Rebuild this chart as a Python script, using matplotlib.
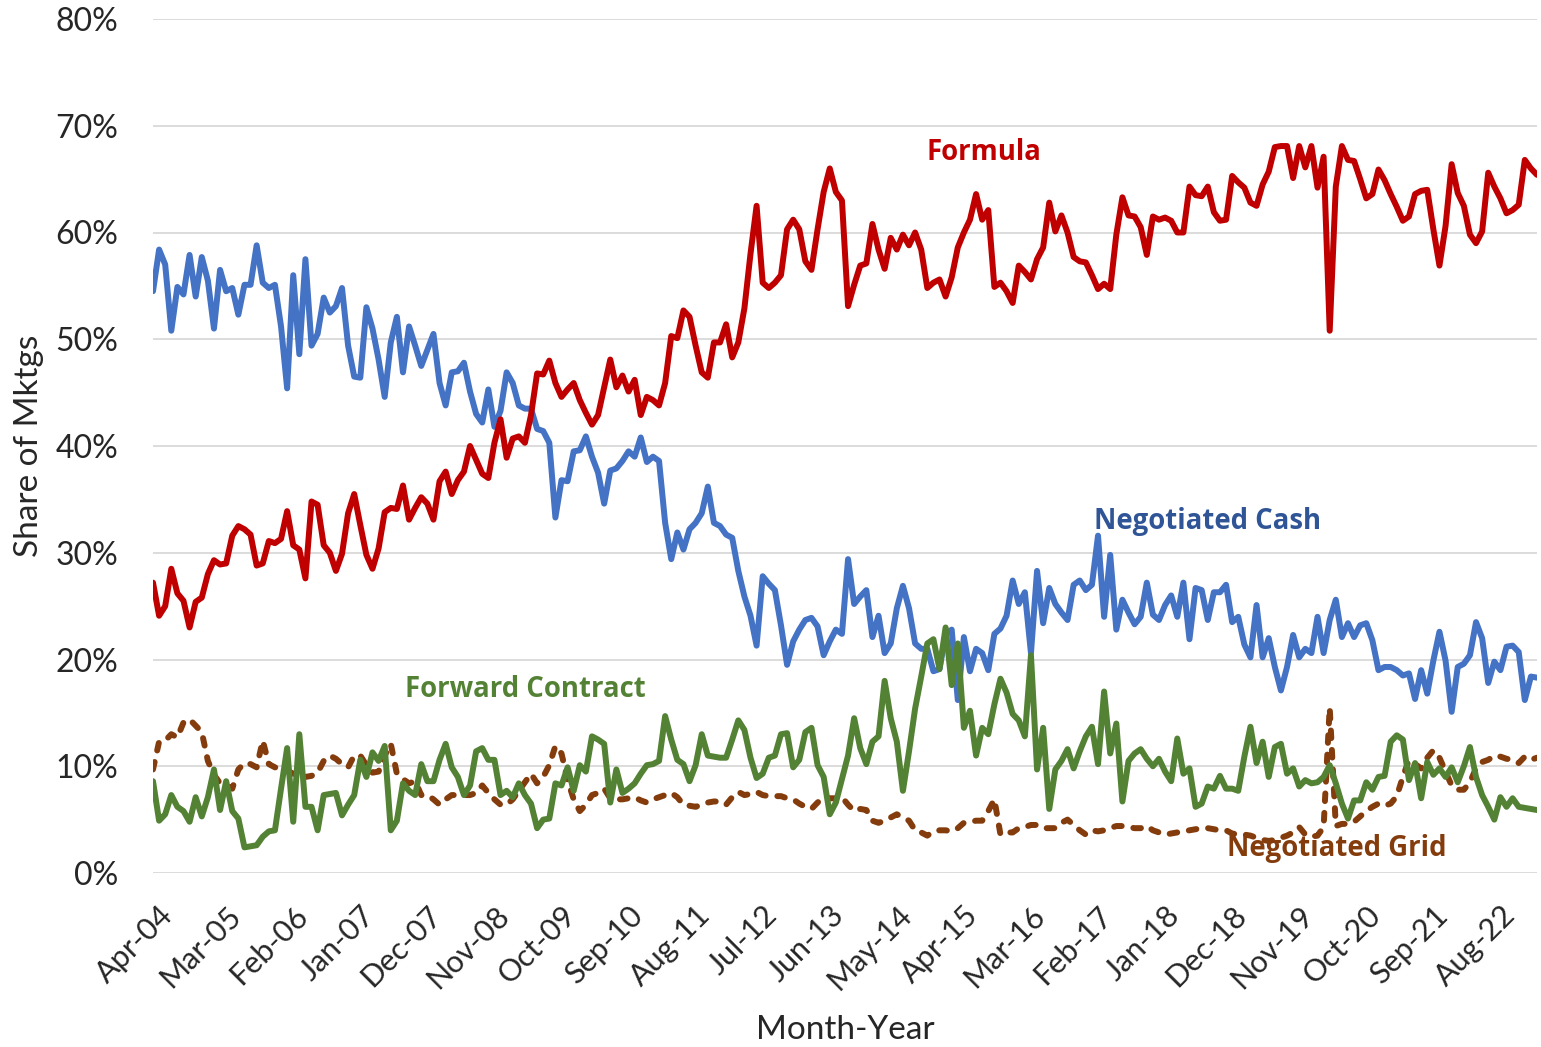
import matplotlib
matplotlib.use("Agg")
import matplotlib.pyplot as plt
import matplotlib.transforms as mtransforms
import numpy as np
import pandas as pd

# Monthly share of hog marketings by pricing method, Apr-2004 .. Mar-2023 (percent)
months = pd.date_range("2004-04-01", periods=228, freq="MS")

formula = [
    27.2, 24.1, 25.0, 28.5, 26.2, 25.5, 23.0, 25.4, 25.8, 28.0,
    29.3, 28.9, 29.0, 31.6, 32.5, 32.2, 31.7, 28.8, 29.0, 31.1,
    30.9, 31.3, 33.9, 30.7, 30.3, 27.6, 34.8, 34.5, 30.7, 30.0,
    28.3, 29.9, 33.7, 35.5, 32.6, 29.8, 28.5, 30.4, 33.8, 34.2,
    34.1, 36.3, 33.1, 34.2, 35.2, 34.6, 33.1, 36.7, 37.6, 35.5,
    36.8, 37.6, 40.0, 38.7, 37.4, 37.0, 40.3, 42.5, 38.9, 40.7,
    40.9, 40.3, 42.9, 46.8, 46.7, 48.0, 45.9, 44.6, 45.3, 45.9,
    44.3, 43.1, 42.0, 42.9, 45.5, 48.1, 45.5, 46.6, 45.1, 46.2,
    42.9, 44.6, 44.3, 43.8, 45.9, 50.3, 50.1, 52.7, 52.1, 49.4,
    46.9, 46.4, 49.7, 49.7, 51.4, 48.3, 49.7, 52.9, 58.0, 62.5,
    55.3, 54.8, 55.3, 56.0, 60.3, 61.2, 60.3, 57.3, 56.5, 60.3,
    63.8, 66.0, 63.8, 63.0, 53.1, 55.1, 56.9, 57.1, 60.8, 58.4,
    56.6, 59.5, 58.4, 59.8, 58.8, 60.0, 58.4, 54.8, 55.3, 55.6,
    54.0, 55.8, 58.6, 60.0, 61.2, 63.6, 61.2, 62.1, 54.9, 55.3,
    54.5, 53.4, 56.9, 56.3, 55.6, 57.5, 58.6, 62.8, 60.1, 61.6,
    60.0, 57.7, 57.3, 57.2, 56.0, 54.7, 55.2, 54.7, 59.8, 63.3,
    61.6, 61.5, 60.5, 57.9, 61.5, 61.2, 61.4, 61.1, 60.0, 60.0,
    64.3, 63.5, 63.4, 64.3, 61.9, 61.1, 61.2, 65.3, 64.7, 64.2,
    62.8, 62.5, 64.5, 65.7, 68.0, 68.1, 68.1, 65.1, 68.1, 66.1,
    68.1, 64.2, 67.1, 50.8, 64.3, 68.1, 66.8, 66.7, 65.0, 63.2,
    63.6, 65.9, 64.9, 63.6, 62.4, 61.1, 61.5, 63.6, 63.9, 64.0,
    60.3, 56.9, 60.6, 66.4, 63.7, 62.5, 59.8, 59.0, 60.1, 65.6,
    64.3, 63.2, 61.8, 62.1, 62.6, 66.8, 66.0, 65.4,
]

negotiated_cash = [
    54.5, 58.4, 57.0, 50.8, 54.9, 54.2, 57.9, 54.0, 57.7, 55.5,
    51.0, 56.5, 54.5, 54.8, 52.3, 55.1, 55.1, 58.8, 55.3, 54.8,
    55.1, 51.2, 45.4, 56.0, 48.6, 57.5, 49.4, 50.5, 53.9, 52.5,
    53.1, 54.8, 49.4, 46.5, 46.4, 53.0, 51.0, 48.1, 44.6, 49.7,
    52.1, 46.9, 51.2, 49.4, 47.5, 49.0, 50.5, 45.9, 43.8, 46.9,
    47.0, 47.8, 45.1, 43.0, 42.2, 45.3, 41.8, 43.3, 46.9, 45.9,
    43.8, 43.5, 43.5, 41.6, 41.4, 40.3, 33.3, 36.8, 36.7, 39.5,
    39.6, 40.9, 39.0, 37.5, 34.6, 37.7, 37.9, 38.6, 39.5, 39.0,
    40.8, 38.5, 39.0, 38.6, 32.8, 29.4, 31.9, 30.3, 32.2, 32.8,
    33.7, 36.2, 32.8, 32.5, 31.7, 31.4, 28.3, 25.9, 24.1, 21.3,
    27.8, 27.1, 26.5, 23.2, 19.5, 21.7, 22.8, 23.7, 23.9, 23.1,
    20.4, 21.7, 22.8, 22.4, 29.4, 25.2, 25.9, 26.5, 22.1, 24.1,
    20.6, 21.5, 24.8, 26.9, 24.8, 21.5, 21.0, 21.0, 18.9, 19.1,
    22.4, 22.8, 16.2, 22.1, 18.9, 21.0, 20.6, 19.0, 22.4, 22.9,
    24.1, 27.4, 25.2, 26.3, 20.6, 28.3, 23.4, 26.7, 25.2, 24.4,
    23.7, 27.0, 27.4, 26.5, 27.0, 31.6, 24.0, 29.8, 22.8, 25.6,
    24.4, 23.3, 24.0, 27.2, 24.2, 23.7, 25.1, 26.0, 24.0, 27.2,
    21.9, 26.7, 26.5, 23.7, 26.3, 26.3, 27.0, 23.5, 24.0, 21.4,
    20.2, 25.1, 20.2, 22.0, 19.3, 17.1, 19.3, 22.3, 20.2, 21.0,
    20.6, 24.0, 20.6, 23.7, 25.6, 22.1, 23.4, 22.1, 23.2, 23.4,
    21.8, 19.0, 19.3, 19.3, 19.0, 18.5, 18.7, 16.3, 19.0, 16.8,
    19.9, 22.6, 19.9, 15.1, 19.3, 19.6, 20.4, 23.5, 22.0, 17.8,
    19.8, 19.0, 21.2, 21.3, 20.7, 16.2, 18.4, 18.3,
]

forward_contract = [
    8.6, 4.9, 5.5, 7.3, 6.2, 5.8, 4.8, 7.1, 5.3, 7.1,
    9.7, 5.9, 8.6, 5.8, 5.1, 2.4, 2.5, 2.6, 3.4, 3.9,
    4.0, 7.9, 11.7, 4.8, 13.0, 6.2, 6.2, 4.0, 7.3, 7.4,
    7.5, 5.4, 6.4, 7.3, 10.6, 9.0, 11.3, 10.5, 11.9, 4.0,
    4.9, 8.4, 7.7, 7.3, 10.2, 8.6, 8.6, 10.6, 12.1, 9.9,
    9.0, 7.3, 8.2, 11.4, 11.7, 10.6, 10.6, 7.3, 7.7, 7.1,
    8.4, 7.3, 6.5, 4.2, 5.0, 5.1, 8.4, 8.2, 9.9, 7.7,
    10.1, 9.5, 12.8, 12.5, 12.1, 6.6, 9.7, 7.5, 7.9, 8.4,
    9.3, 10.1, 10.2, 10.5, 14.7, 12.5, 10.6, 10.2, 8.6, 10.1,
    13.0, 11.0, 10.9, 10.8, 10.8, 12.5, 14.3, 13.4, 10.8, 8.9,
    9.3, 10.8, 11.0, 13.0, 13.1, 9.9, 10.6, 13.2, 13.6, 10.1,
    9.0, 5.5, 6.6, 8.8, 11.0, 14.5, 11.7, 10.2, 12.3, 12.8,
    18.0, 14.5, 12.3, 7.7, 11.4, 15.4, 18.4, 21.5, 21.9, 19.1,
    23.0, 17.6, 21.5, 13.6, 15.2, 11.0, 13.6, 13.0, 15.8, 18.2,
    16.9, 14.9, 14.3, 12.8, 20.4, 9.7, 13.6, 6.0, 9.7, 10.5,
    11.6, 9.8, 11.4, 12.8, 13.7, 10.2, 17.0, 11.2, 14.0, 6.7,
    10.5, 11.2, 11.6, 10.7, 10.0, 10.7, 9.5, 8.6, 12.6, 9.3,
    9.8, 6.2, 6.5, 8.1, 7.9, 9.1, 7.9, 7.9, 7.7, 10.9,
    13.7, 10.3, 12.3, 9.0, 11.8, 12.1, 9.3, 9.8, 8.1, 8.7,
    8.4, 8.5, 9.0, 10.1, 8.4, 6.5, 5.1, 6.8, 6.8, 8.5,
    7.8, 9.0, 9.1, 12.3, 12.9, 12.5, 8.7, 10.3, 7.0, 10.4,
    9.2, 9.8, 9.0, 9.9, 8.5, 10.0, 11.8, 9.0, 7.3, 6.2,
    5.0, 7.1, 6.2, 7.0, 6.2, 6.1, 6.0, 5.9,
]

negotiated_grid = [
    9.7, 12.3, 12.4, 13.0, 12.7, 14.1, 14.4, 13.8, 13.2, 10.5,
    9.2, 8.4, 8.2, 7.9, 9.7, 10.3, 10.2, 9.9, 12.4, 10.2,
    9.9, 9.8, 9.6, 9.3, 9.0, 9.0, 9.1, 9.4, 10.5, 11.0,
    10.7, 10.2, 9.9, 11.0, 11.0, 10.1, 9.4, 9.5, 11.0, 12.1,
    9.3, 8.8, 8.4, 8.6, 7.3, 7.3, 6.9, 6.4, 6.9, 7.3,
    7.3, 7.3, 7.3, 7.5, 8.2, 7.5, 6.9, 6.4, 6.4, 6.9,
    7.7, 8.5, 9.3, 8.4, 9.0, 10.1, 11.9, 11.2, 8.7, 6.9,
    5.8, 6.4, 7.3, 7.5, 7.9, 7.0, 6.9, 6.9, 7.0, 7.1,
    6.8, 6.6, 6.9, 7.1, 7.3, 7.5, 7.1, 6.4, 6.3, 6.2,
    6.4, 6.6, 6.7, 6.7, 6.4, 7.1, 7.6, 7.3, 7.4, 7.6,
    7.3, 7.2, 7.2, 7.2, 7.0, 6.9, 6.5, 6.2, 6.0, 6.6,
    7.1, 7.0, 7.0, 7.1, 6.4, 5.8, 6.0, 5.9, 4.9, 4.7,
    4.9, 5.2, 5.5, 5.2, 4.9, 4.0, 3.8, 3.5, 3.9, 4.0,
    4.0, 3.9, 4.2, 4.7, 4.8, 4.9, 4.9, 5.8, 6.9, 3.6,
    3.8, 3.8, 4.2, 4.3, 4.5, 4.5, 4.2, 4.2, 4.2, 4.7,
    5.0, 4.5, 4.0, 3.6, 4.0, 3.9, 4.0, 4.2, 4.4, 4.4,
    4.3, 4.2, 4.2, 4.4, 4.0, 3.8, 3.6, 3.7, 3.8, 3.9,
    4.0, 4.1, 4.2, 4.2, 4.1, 4.0, 4.0, 3.7, 3.6, 3.6,
    3.5, 3.3, 3.1, 3.0, 3.1, 3.3, 3.5, 3.8, 4.3, 3.6,
    3.4, 3.5, 4.3, 15.5, 4.4, 4.6, 4.6, 4.8, 5.3, 5.8,
    6.2, 6.5, 6.3, 6.5, 7.2, 9.0, 10.6, 10.2, 9.8, 10.8,
    11.5, 10.8, 9.5, 8.2, 7.8, 7.8, 8.5, 9.8, 10.4, 10.6,
    11.0, 10.9, 10.7, 10.6, 10.3, 10.9, 10.6, 10.8,
]

y_ticks = list(range(0, 81, 10))
tick_step = 11

plt.rcParams["lines.scale_dashes"] = False
axis_font = "Lato"
label_font = "Open Sans"
text_grey = "#262626"

W, H = 1541, 1047
fig = plt.figure(figsize=(W / 100, H / 100), dpi=100)
ax = fig.add_axes([153 / W, 1 - 873 / H, (1537 - 153) / W, (873 - 19) / H])

x = np.arange(len(months))
lw = 4.3
line_kw = dict(lw=lw, solid_joinstyle="round", solid_capstyle="round")
ax.plot(x, negotiated_cash, color="#4472C4", **line_kw, zorder=3)
ax.plot(x, formula, color="#C00000", **line_kw, zorder=4)
ax.plot(x, negotiated_grid, color="#843C0C", lw=lw, dashes=(5.5, 8.5),
        dash_capstyle="round", dash_joinstyle="round", zorder=5)
ax.plot(x, forward_contract, color="#548235", **line_kw, zorder=6)

ax.set_xlim(0, len(months) - 1)
ax.set_ylim(0, 80)
ax.set_yticks(y_ticks)
ax.set_yticklabels([f"{v}%" for v in y_ticks], fontsize=23, family=axis_font)
ax.yaxis.grid(True, color="#D9D9D9", lw=1.3)
ax.set_axisbelow(True)
for s in ax.spines.values():
    s.set_visible(False)
ax.tick_params(axis="y", length=0, pad=25, labelcolor=text_grey)

tick_idx = list(range(0, len(months), tick_step))
ax.set_xticks(tick_idx)
ax.set_xticklabels([months[i].strftime("%b-%y") for i in tick_idx],
                   rotation=45, ha="right", va="top", rotation_mode="anchor",
                   fontsize=22, family=axis_font)
ax.tick_params(axis="x", length=0, pad=20, labelcolor=text_grey)
shift = mtransforms.ScaledTranslation(6 / 100, 0, fig.dpi_scale_trans)
for lbl in ax.get_xticklabels():
    lbl.set_transform(lbl.get_transform() + shift)

ax.set_ylabel("Share of Mktgs", fontsize=24, family=axis_font, color=text_grey, labelpad=8)
ax.set_xlabel("Month-Year", fontsize=24, family=axis_font, color=text_grey, labelpad=14)

lab_kw = dict(fontsize=19.8, family=label_font, fontweight="bold", ha="center", va="center")
ax.text(136.3, 67.5, "Formula", color="#C00000", **lab_kw)
ax.text(173.0, 32.9, "Negotiated Cash", color="#2F5597", **lab_kw)
ax.text(61.0, 17.2, "Forward Contract", color="#548235", **lab_kw)
ax.text(194.2, 2.3, "Negotiated Grid", color="#843C0C", **lab_kw)

fig.savefig("out.png", dpi=100)
